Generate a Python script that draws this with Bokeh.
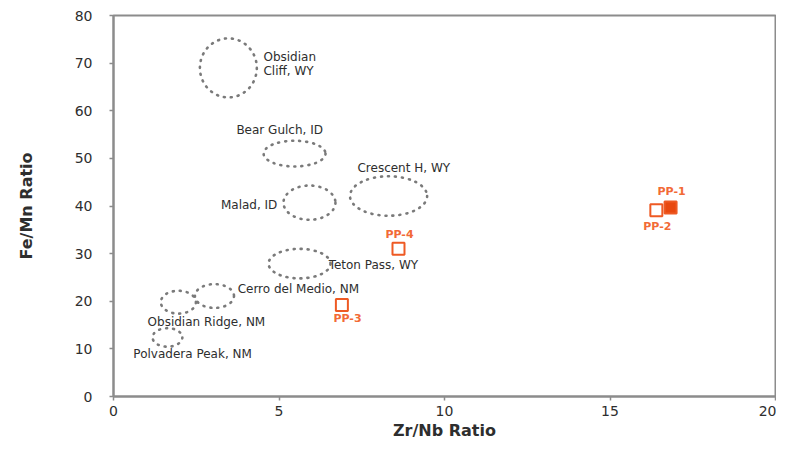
from bokeh.plotting import figure
from bokeh.models import Range1d, ColumnDataSource, FixedTicker
from bokeh.core.properties import value
from bokeh.embed import file_html
from bokeh.resources import INLINE

# Source ellipses (Zr/Nb vs Fe/Mn)
src_names = ["Obsidian Cliff, WY", "Bear Gulch, ID", "Malad, ID", "Crescent H, WY",
             "Teton Pass, WY", "Cerro del Medio, NM", "Obsidian Ridge, NM", "Polvadera Peak, NM"]
src_x = [3.47, 5.47, 5.92, 8.31, 5.62, 3.05, 1.96, 1.63]
src_y = [69.0, 51.0, 40.7, 42.1, 27.9, 21.1, 19.8, 12.4]
src_w = [1.72, 1.87, 1.57, 2.33, 1.87, 1.18, 1.06, 0.90]
src_h = [12.4, 5.4, 7.2, 8.3, 6.2, 5.0, 4.8, 3.9]

# Source label texts and positions
lab_text = ["Obsidian", "Cliff, WY", "Bear Gulch, ID", "Crescent H, WY", "Malad, ID",
            "Teton Pass, WY", "Cerro del Medio, NM", "Obsidian Ridge, NM", "Polvadera Peak, NM"]
lab_x = [4.53, 4.53, 5.02, 7.37, 4.95, 6.50, 3.75, 1.03, 0.60]
lab_y = [71.3, 68.4, 56.0, 48.0, 40.3, 27.7, 22.5, 15.7, 8.9]
lab_align = ["left", "left", "center", "left", "right", "left", "left", "left", "left"]

# Artifact samples
pp_names = ["PP-2", "PP-1", "PP-4", "PP-3"]
pp_x = [16.40, 16.83, 8.61, 6.90]
pp_y = [39.1, 39.7, 31.0, 19.2]
pp_fill = ["white", "#E8480F", "white", "white"]
pp_lx = [16.43, 16.86, 8.64, 7.07]
pp_ly = [35.8, 43.0, 34.1, 16.3]

x_ticks = [0, 5, 10, 15, 20]
y_ticks = [0, 10, 20, 30, 40, 50, 60, 70, 80]

AX = "#8c8c8c"
TXT = "#2e2e2e"
ORANGE = "#EE5A24"
FONT = "DejaVu Sans"

p = figure(width=776, height=442, output_backend="svg", toolbar_location=None,
           x_range=Range1d(0, 20), y_range=Range1d(0, 80),
           min_border_left=113, min_border_right=1, min_border_top=15, min_border_bottom=40)
p.grid.visible = False
p.outline_line_color = AX
p.outline_line_width = 2

for ax in (p.xaxis[0], p.yaxis[0]):
    ax.axis_line_color = AX
    ax.axis_line_width = 2
    ax.major_tick_line_color = AX
    ax.major_tick_line_width = 1.5
    ax.major_tick_in = 0
    ax.major_tick_out = 4
    ax.minor_tick_line_color = None
    ax.major_label_text_font = FONT
    ax.major_label_text_font_size = "14px"
    ax.major_label_text_color = TXT
    ax.axis_label_text_font = FONT
    ax.axis_label_text_font_style = "bold"
    ax.axis_label_text_font_size = "16px"
    ax.axis_label_text_color = TXT

p.xaxis[0].ticker = FixedTicker(ticks=x_ticks)
p.yaxis[0].ticker = FixedTicker(ticks=y_ticks)
p.xaxis[0].axis_label = "Zr/Nb Ratio"
p.yaxis[0].axis_label = "Fe/Mn Ratio"
p.xaxis[0].major_label_standoff = 5
p.yaxis[0].major_label_standoff = 17
p.xaxis[0].axis_label_standoff = 2
p.yaxis[0].axis_label_standoff = 36

es = ColumnDataSource(dict(x=src_x, y=src_y, w=src_w, h=src_h))
p.ellipse(x="x", y="y", width="w", height="h", source=es, fill_color=None,
          line_color="#7a7a7a", line_width=2.6, line_dash="1 6", line_cap="round")

ls = ColumnDataSource(dict(x=lab_x, y=lab_y, t=lab_text, a=lab_align))
p.text(x="x", y="y", text="t", text_align="a", source=ls, text_baseline="middle",
       text_font=value(FONT), text_font_size="12px", text_color=TXT)

ps = ColumnDataSource(dict(x=pp_x, y=pp_y, f=pp_fill, lx=pp_lx, ly=pp_ly, t=pp_names))
p.scatter(x="x", y="y", source=ps, marker="square", size=12, fill_color="f",
          line_color=ORANGE, line_width=2)
p.text(x="lx", y="ly", text="t", source=ps, text_align="center", text_baseline="middle",
       text_font=value(FONT), text_font_size="11px", text_font_style="bold", text_color="#F26A36")

open("out.html", "w").write(file_html(p, INLINE))
